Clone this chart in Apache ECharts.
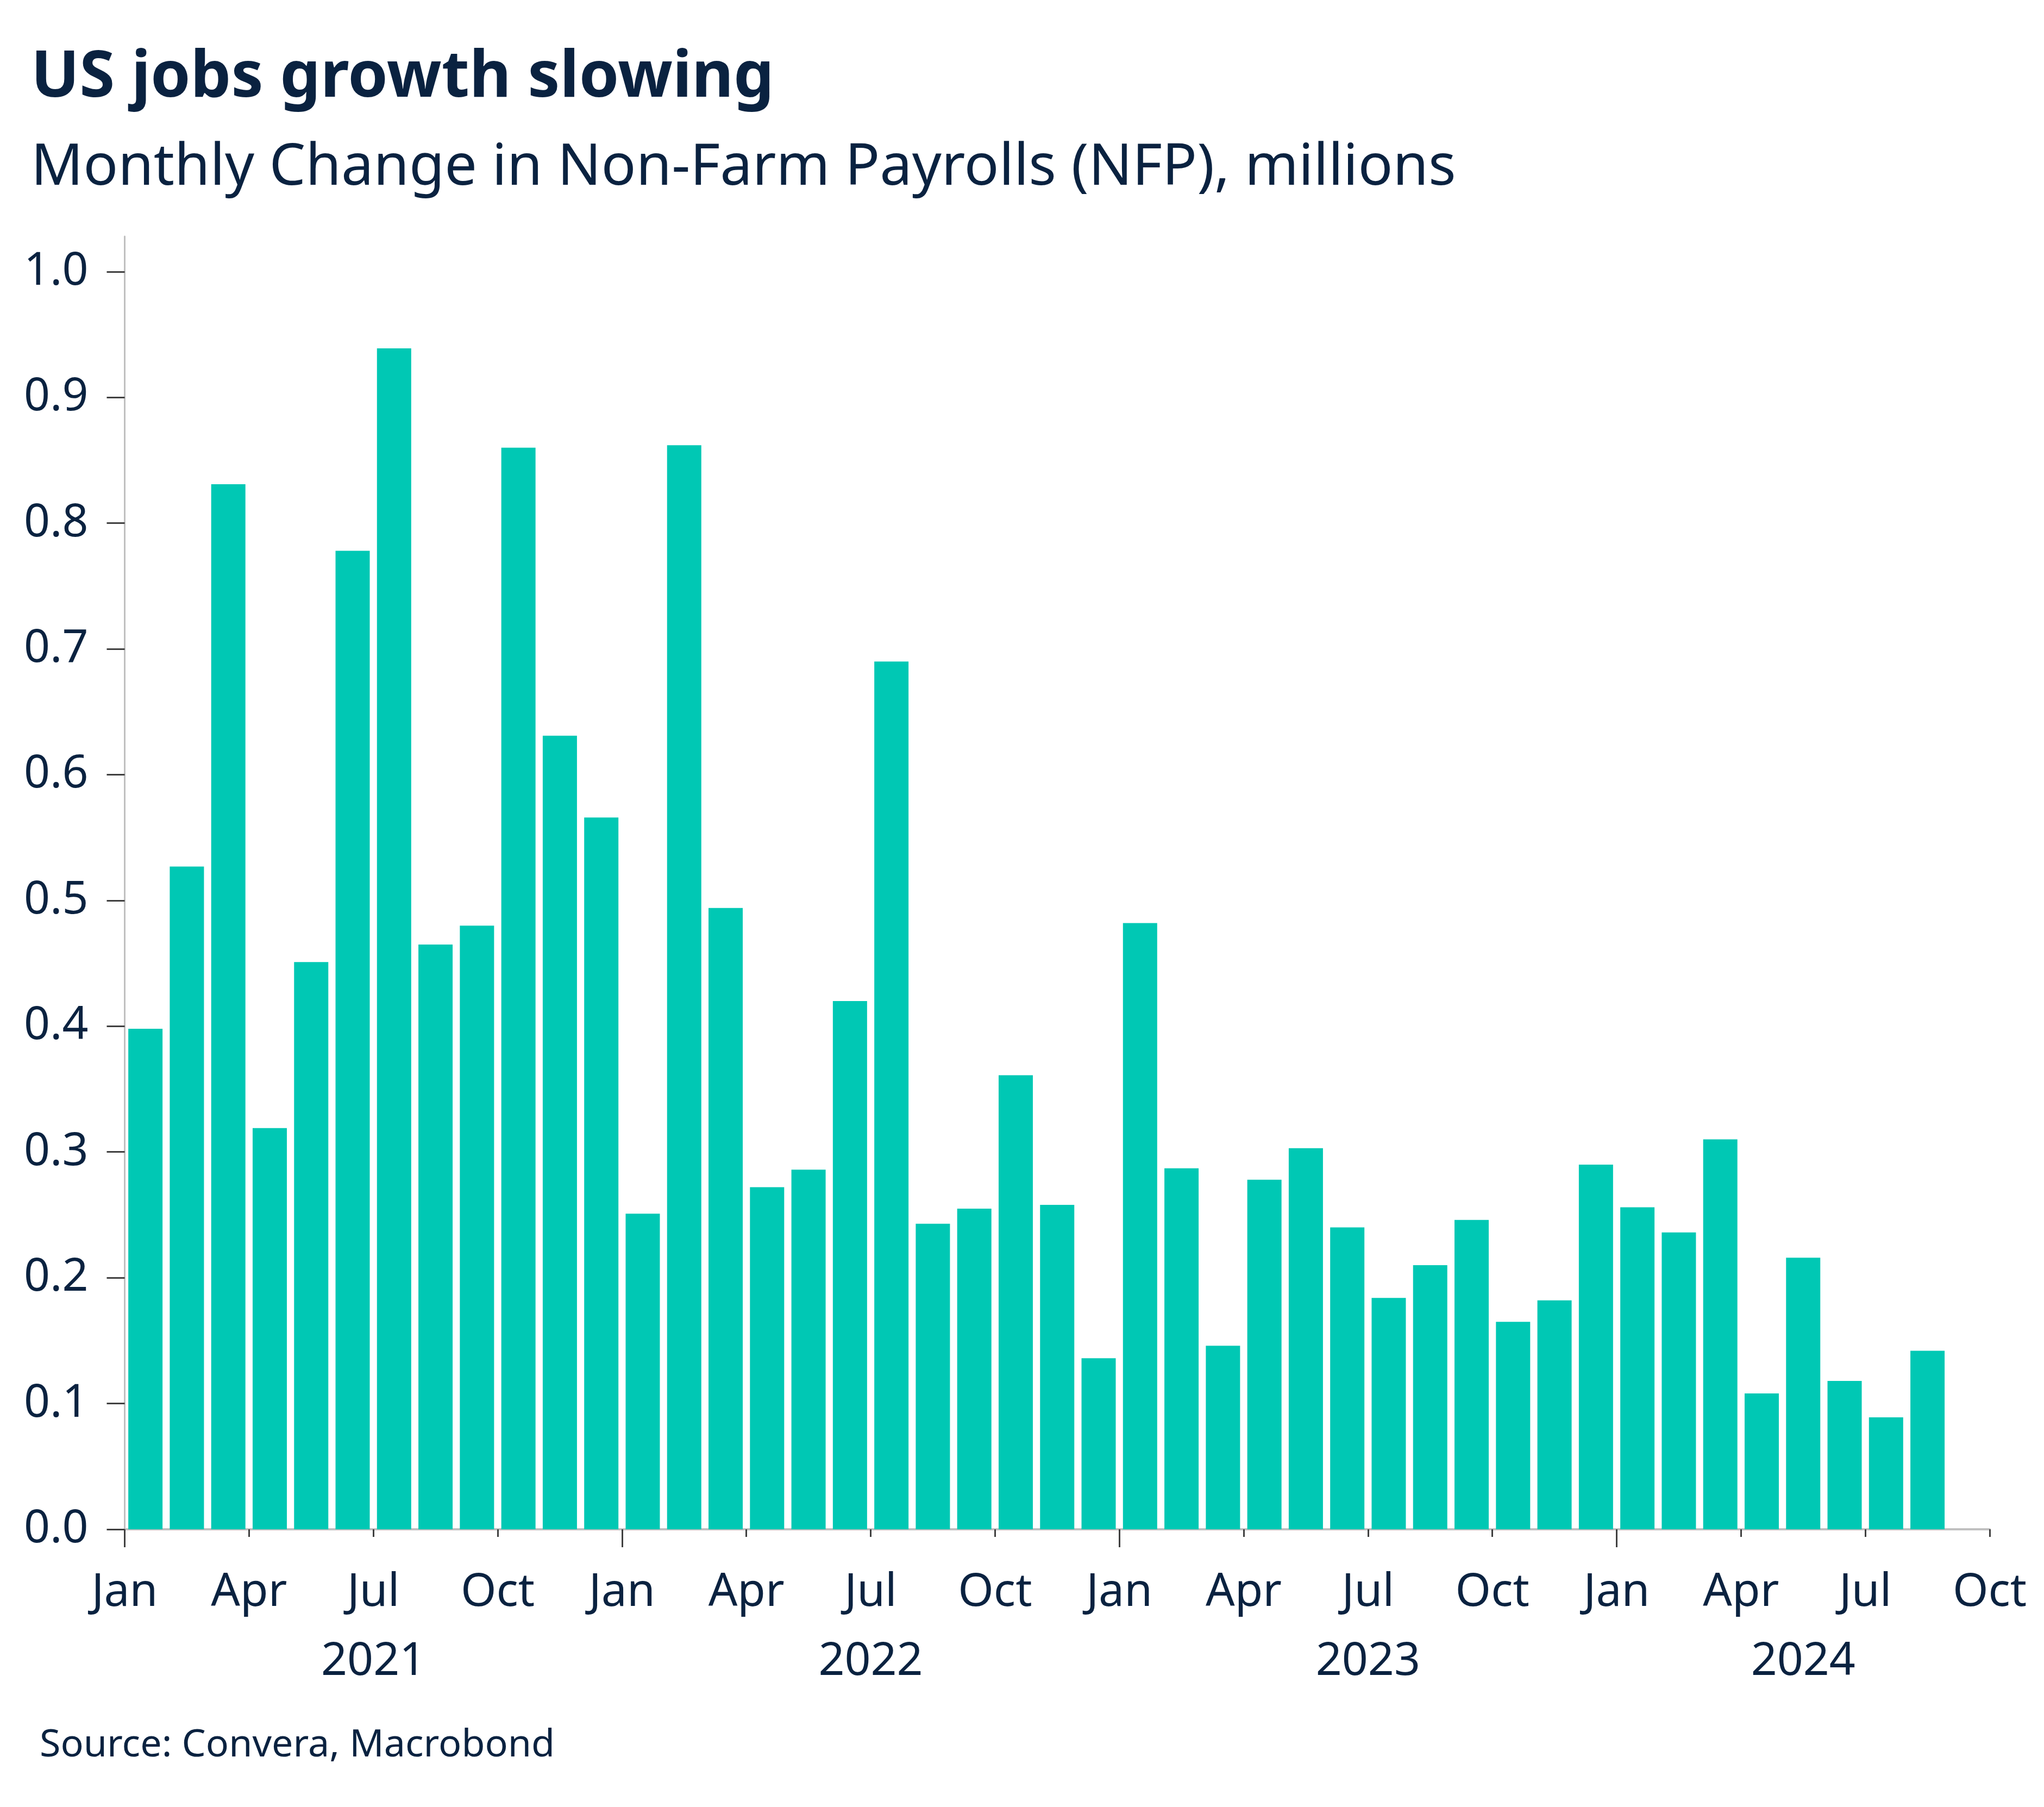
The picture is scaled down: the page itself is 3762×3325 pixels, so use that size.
<!DOCTYPE html>
<html>
<head>
<meta charset="utf-8">
<title>US jobs growth slowing</title>
<script src="https://cdn.jsdelivr.net/npm/echarts@6/dist/echarts.min.js"></script>
<style>
  html, body { margin: 0; padding: 0; background: #fff; }
  #chart { width: 3762px; height: 3325px; }
</style>
</head>
<body>
<div id="chart"></div>
<script>
// monthly change in NFP, millions, Jan 2021 .. Aug 2024
const nfp2021 = [0.398, 0.527, 0.831, 0.319, 0.451, 0.778, 0.939, 0.465, 0.480, 0.860, 0.631, 0.566]
const nfp2022 = [0.251, 0.862, 0.494, 0.272, 0.286, 0.420, 0.690, 0.243, 0.255, 0.361, 0.258, 0.136]
const nfp2023 = [0.482, 0.287, 0.146, 0.278, 0.303, 0.240, 0.184, 0.210, 0.246, 0.165, 0.182, 0.290]
const nfp2024 = [0.256, 0.236, 0.310, 0.108, 0.216, 0.118, 0.089, 0.142]

const years = ["2021", "2022", "2023", "2024"]
const monthNames = ["Jan", "Feb", "Mar", "Apr", "May", "Jun", "Jul", "Aug", "Sep", "Oct", "Nov", "Dec"]
const yTicks = [0, 0.1, 0.2, 0.3, 0.4, 0.5, 0.6, 0.7, 0.8, 0.9, 1.0]
const axisMonths = 45 // Jan 2021 .. Oct 2024

const values = [].concat(nfp2021, nfp2022, nfp2023, nfp2024)
const barData = values.map((v, i) => [i + 0.5, v])

const monthTicks = []
for (let m = 0; m <= axisMonths; m += 3) monthTicks.push(m)
const janTicks = []
for (let m = 0; m <= axisMonths; m += 12) janTicks.push(m)
// year label sits in the middle of the part of that year shown on the axis
const yearPos = years.map((y, i) => {
    const start = i * 12
    const end = Math.min(start + 12, axisMonths)
    return (start + end) / 2
})

const navy = "#0a2240"
const font = "Noto Sans"

const option = {
    backgroundColor: "#ffffff",
    animation: false,
    textStyle: {fontFamily: font},
    title: [
        {
            text: "US jobs growth slowing",
            left: 52, top: 80,
            textStyle: {fontSize: 118, fontWeight: "bold", color: navy, fontFamily: font}
        },
        {
            text: "Monthly Change in Non-Farm Payrolls (NFP), millions",
            left: 52, top: 252,
            textStyle: {fontSize: 106, fontWeight: "normal", color: navy, fontFamily: font}
        },
        {
            text: "Source: Convera, Macrobond",
            left: 68, top: 3172,
            textStyle: {fontSize: 70, fontWeight: "normal", color: navy, fontFamily: font}
        }
    ],
    grid: {left: 229.5, right: 100, top: 435, bottom: 511, containLabel: false},
    xAxis: [
        {
            type: "value",
            min: 0, max: axisMonths, interval: 3,
            axisLine: {show: true, lineStyle: {color: "#c0c0c0", width: 4}},
            axisTick: {show: true, length: 14, customValues: monthTicks, lineStyle: {color: "#404040", width: 3}},
            axisLabel: {
                customValues: monthTicks,
                margin: 75,
                fontSize: 84, color: navy, fontFamily: font,
                formatter: v => monthNames[Math.round(v) % 12]
            },
            splitLine: {show: false}
        },
        {
            type: "value",
            position: "bottom",
            min: 0, max: axisMonths,
            axisLine: {show: false},
            axisTick: {show: true, length: 33, customValues: janTicks, lineStyle: {color: "#404040", width: 3}},
            axisLabel: {
                customValues: yearPos,
                margin: 202,
                fontSize: 84, color: navy, fontFamily: font,
                formatter: v => years[yearPos.indexOf(v)]
            },
            splitLine: {show: false}
        }
    ],
    yAxis: {
        type: "value",
        min: 0, max: 1.028, interval: 0.1,
        axisLine: {show: true, lineStyle: {color: "#c0c0c0", width: 3}},
        axisTick: {show: true, length: 33, customValues: yTicks, lineStyle: {color: "#404040", width: 3}},
        axisLabel: {
            customValues: yTicks,
            margin: 67,
            fontSize: 84, color: navy, fontFamily: font,
            formatter: v => v.toFixed(1)
        },
        splitLine: {show: false}
    },
    series: [
        {
            type: "bar",
            xAxisIndex: 0,
            data: barData,
            barWidth: 63,
            itemStyle: {color: "#00c8b4"}
        }
    ]
}

const chart = echarts.init(document.getElementById("chart"), null, {renderer: "canvas"})
chart.setOption(option)
</script>
</body>
</html>
